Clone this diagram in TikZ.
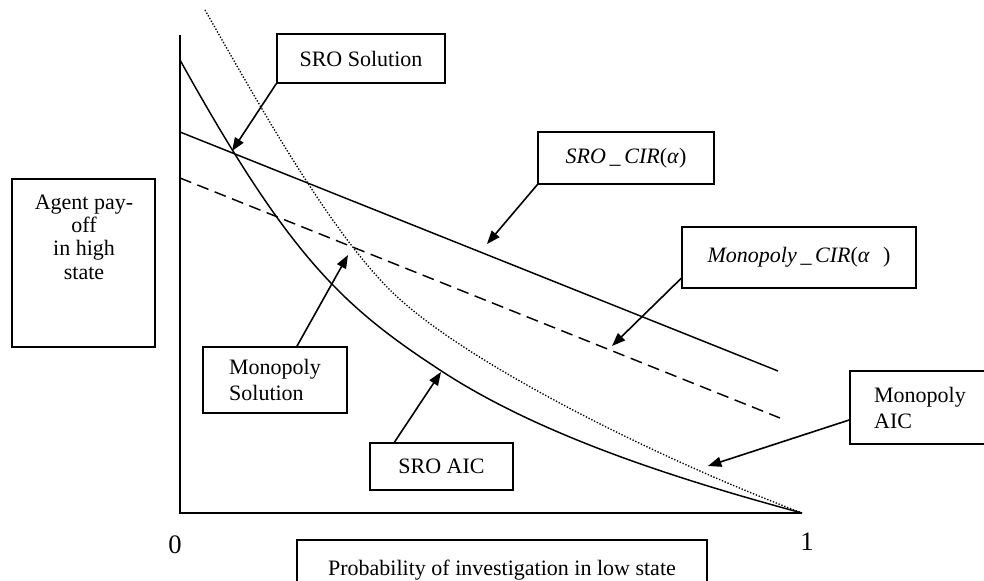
\documentclass[tikz,border=0pt]{standalone}
\usepackage{fontspec}
\setmainfont{Liberation Serif}
\usetikzlibrary{arrows.meta}

\begin{document}
\begin{tikzpicture}[
    x=0.75pt, y=-0.75pt, >={Triangle[length=10pt,width=7.5pt]},
    every node/.style={font=\fontsize{16.5}{19.5}\selectfont},
    labelbox/.style={draw, line width=1.1pt, inner sep=0pt, align=left},
    pointer/.style={->, line width=1.2pt},
    curve/.style={line width=1.1pt},
    tick/.style={font=\fontsize{20}{24}\selectfont}
]
    \useasboundingbox (0,0) rectangle (984,581);

    % Axes
    \coordinate (O) at (180,513);
    \coordinate (ytop) at (180,35);
    \coordinate (xend) at (802,513);
    \draw[line width=1.8pt] (ytop) -- (O) -- (xend);
    \node[tick] (zero) at (175,545) {0};
    \node[tick] (one) at (807,542) {1};

    % Axis labels
    \draw[line width=1.1pt] (12,179) rectangle (155,347);
    \node[align=center, inner sep=0pt, font=\fontsize{16.5}{17.5}\selectfont] (ylab) at (84,237)
        {Agent pay-\\off\\in high\\state};
    \node[labelbox, minimum width=307.5pt, minimum height=45pt] (probBox) at (502,570)
        {Probability of investigation in low state};

    % CIR lines
    \coordinate (sroA) at (180,132);
    \coordinate (sroB) at (778,371);
    \coordinate (monA) at (180,178);
    \coordinate (monB) at (780,418);
    \draw[curve] (sroA) -- (sroB);
    \draw[curve, dash pattern=on 9pt off 5pt] (monA) -- (monB);

    % AIC curves
    \coordinate (sroTop) at (180,60);
    \coordinate (monTop) at (205,10);
    \draw[curve] (sroTop) .. controls (290,258) and (343,307) .. (443,372)
        .. controls (543,437) and (682,480.6) .. (xend);
    \draw[line width=1pt, dash pattern=on 1pt off 1.3pt] (monTop)
        .. controls (265,115.6) and (330,230) .. (390,290)
        .. controls (460,360) and (652,456) .. (xend);

    % Label boxes
    \node[labelbox, minimum width=126pt, minimum height=36.75pt] (sroSol) at (361,58.5) {SRO Solution};
    \node[labelbox, minimum width=132pt, minimum height=39pt] (sroCir) at (626,158)
        {\textit{SRO\,\_\,CIR}(\textit{α})};
    \node[labelbox, minimum width=175.5pt, minimum height=45.75pt] (monCir) at (799,257.5)
        {\textit{Monopoly\,\_\,CIR}(\textit{α}\hspace{0.6em})};
    \node[labelbox, minimum width=108pt, minimum height=49.5pt] (monSol) at (275,380) {Monopoly\\Solution};
    \node[labelbox, minimum width=107pt, minimum height=35pt] (sroAic) at (441.5,466.5) {SRO AIC};
    \node[labelbox, minimum width=105pt, minimum height=54.75pt] (monAic) at (920,407.5) {Monopoly\\AIC};

    % Arrow targets
    \coordinate (sroPt) at (232,151);
    \coordinate (monPt) at (348,255);
    \coordinate (sroCirPt) at (487,244);
    \coordinate (monCirPt) at (612,346);
    \coordinate (sroAicPt) at (441,372);
    \coordinate (monAicPt) at (708,466);

    % Pointers
    \draw[pointer] (sroSol.south west) -- (sroPt);
    \draw[pointer] (monSol.57) -- (monPt);
    \draw[pointer] (sroCir.south west) -- (sroCirPt);
    \draw[pointer] (monCir.190) -- (monCirPt);
    \draw[pointer] (sroAic.153) -- (sroAicPt);
    \draw[pointer] (monAic.190) -- (monAicPt);

\end{tikzpicture}
\end{document}
